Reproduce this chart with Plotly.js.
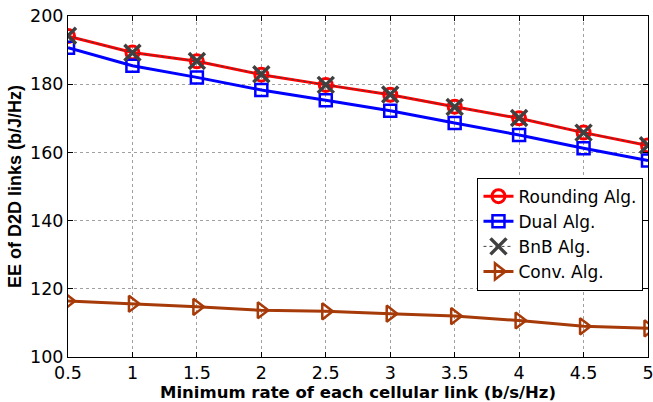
<!DOCTYPE html>
<html>
<head>
<meta charset="utf-8">
<script src="https://cdn.plot.ly/plotly-3.0.1.min.js"></script>
<style>
  html, body { margin: 0; padding: 0; background: #fff; }
  #chart { width: 653px; height: 402px; }
</style>
</head>
<body>
<div id="chart"></div>
<script>
// Minimum rate of each cellular link (b/s/Hz)
const rates = [0.5, 1, 1.5, 2, 2.5, 3, 3.5, 4, 4.5, 5];

// Energy efficiency of D2D links (b/J/Hz) for each algorithm
const roundingEE = [194.1, 189.3, 186.7, 182.8, 179.8, 176.9, 173.4, 170.0, 165.8, 162.0];
const dualEE     = [190.7, 185.4, 182.0, 178.3, 175.3, 172.2, 168.6, 165.1, 161.2, 157.6];
const bnbEE      = [194.2, 189.2, 186.8, 182.9, 179.8, 177.0, 173.3, 170.1, 165.8, 162.1];
const convEE     = [116.4, 115.6, 114.7, 113.7, 113.4, 112.7, 112.0, 110.7, 109.0, 108.4];

const seriesNames = ['Rounding Alg.', 'Dual Alg.', 'BnB Alg.', 'Conv. Alg.'];
const xTickVals = [0.5, 1, 1.5, 2, 2.5, 3, 3.5, 4, 4.5, 5];
const xTickText = ['0.5', '1', '1.5', '2', '2.5', '3', '3.5', '4', '4.5', '5'];
const yTickVals = [100, 120, 140, 160, 180, 200];

const WIDE = 'DejaVu Sans, Verdana, sans-serif';
const NARROW = 'Liberation Sans, Arial, Helvetica, sans-serif';

const traces = [
  {
    x: rates, y: roundingEE, name: seriesNames[0], mode: 'lines+markers',
    line: { color: '#ff0000', width: 3 },
    marker: { symbol: 'circle-open', size: 13, color: '#ff0000', line: { width: 3, color: '#ff0000' } }
  },
  {
    x: rates, y: dualEE, name: seriesNames[1], mode: 'lines+markers',
    line: { color: '#0000ff', width: 3 },
    marker: { symbol: 'square-open', size: 12, color: '#0000ff', line: { width: 2.5, color: '#0000ff' } }
  },
  {
    x: rates, y: bnbEE, name: seriesNames[2], mode: 'lines+markers',
    line: { color: '#404040', width: 1, dash: 'dot' },
    marker: { symbol: 'x-thin-open', size: 16, color: '#404040', line: { width: 3.5, color: '#404040' } }
  },
  {
    x: rates, y: convEE, name: seriesNames[3], mode: 'lines+markers',
    line: { color: '#a63a08', width: 3 },
    marker: { symbol: 'triangle-right-open', size: 14, color: '#a63a08', line: { width: 2.5, color: '#a63a08' } }
  }
];

const layout = {
  width: 653, height: 402,
  margin: { l: 68, r: 5, t: 16, b: 45 },
  paper_bgcolor: '#ffffff', plot_bgcolor: '#ffffff',
  font: { family: WIDE, size: 17, color: '#000' },
  showlegend: true,
  legend: {
    x: 0.706, y: 0.526, xanchor: 'left', yanchor: 'top',
    bgcolor: '#ffffff', bordercolor: '#000000', borderwidth: 1,
    font: { family: WIDE, size: 17, color: '#000' },
    tracegroupgap: 0, itemwidth: 30
  },
  xaxis: {
    range: [0.5, 5], tickvals: xTickVals, ticktext: xTickText,
    showline: true, mirror: 'ticks', linecolor: '#000', linewidth: 1,
    ticks: 'inside', ticklen: 5, tickcolor: '#000',
    showgrid: true, gridcolor: '#a0a0a0', griddash: 'dot', gridwidth: 1,
    zeroline: false, tickfont: { family: WIDE, size: 17.5 }, ticklabeloverflow: 'allow',
    title: { text: '<b>Minimum rate of each cellular link (b/s/Hz)</b>', font: { family: WIDE, size: 16.5 }, standoff: 0 }
  },
  yaxis: {
    range: [100, 200], tickvals: yTickVals,
    showline: true, mirror: 'ticks', linecolor: '#000', linewidth: 1,
    ticks: 'inside', ticklen: 5, tickcolor: '#000',
    showgrid: true, gridcolor: '#a0a0a0', griddash: 'dot', gridwidth: 1,
    zeroline: false, tickfont: { family: WIDE, size: 17.5 }, ticklabeloverflow: 'allow',
    title: { text: '<b>EE of D2D links (b/J/Hz)</b>', font: { family: NARROW, size: 18 }, standoff: 3 }
  }
};

Plotly.newPlot('chart', traces, layout, { displayModeBar: false, staticPlot: true });
</script>
</body>
</html>
